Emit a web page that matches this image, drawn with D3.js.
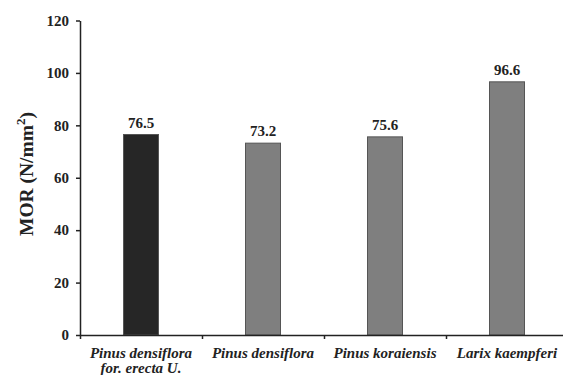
<!DOCTYPE html>
<html><head><meta charset="utf-8">
<script src="https://cdn.jsdelivr.net/npm/d3@7"></script>
<style>body{margin:0;background:#fff}svg{display:block}</style>
</head><body>
<script>
const categories = [["Pinus densiflora","for. erecta U."],["Pinus densiflora"],["Pinus koraiensis"],["Larix kaempferi"]];
const values = [76.5, 73.2, 75.6, 96.6];
const colors = ["#262626","#7f7f7f","#7f7f7f","#7f7f7f"];
const yTicks = [0,20,40,60,80,100,120];

const W=563,H=375;
const svg=d3.select("body").append("svg").attr("width",W).attr("height",H);
const x0=80, x1=568, yTop=20.5, yBot=335;
const x=d3.scaleBand().domain(d3.range(categories.length)).range([x0,x1]).paddingInner(0).paddingOuter(0);
const y=d3.scaleLinear().domain([0,120]).range([yBot,yTop]);
const font="Liberation Serif";
const bw=35;

svg.selectAll("rect.bar").data(values).enter().append("rect")
  .attr("x",(d,i)=>x(i)+x.bandwidth()/2-bw/2).attr("width",bw)
  .attr("y",d=>y(d)).attr("height",d=>y(0)-y(d))
  .attr("fill",(d,i)=>colors[i]).attr("stroke","#555").attr("stroke-width",1);

svg.selectAll("text.val").data(values).enter().append("text")
  .attr("x",(d,i)=>x(i)+x.bandwidth()/2).attr("y",d=>y(d)-7)
  .attr("text-anchor","middle").attr("font-family",font).attr("font-weight","bold")
  .attr("font-size",15).attr("fill","#222").text(d=>d.toFixed(1));

// y axis
const ya=svg.append("g").attr("transform",`translate(${x0},0)`)
  .call(d3.axisLeft(y).tickValues(yTicks).tickSize(4).tickSizeOuter(0).tickPadding(7));
ya.select(".domain").attr("stroke","#222").attr("stroke-width",1.5);
ya.selectAll(".tick line").attr("stroke","#222").attr("stroke-width",1.5);
ya.selectAll("text").attr("font-family",font).attr("font-weight","bold").attr("font-size",15).attr("fill","#222");

// x axis
const xa=svg.append("g").attr("transform",`translate(0,${yBot})`)
  .call(d3.axisBottom(d3.scaleLinear().domain([0,4]).range([x0,x1])).tickValues([0,1,2,3,4]).tickSize(4).tickSizeOuter(0).tickFormat(""));
xa.select(".domain").attr("stroke","#222").attr("stroke-width",1.5);
xa.selectAll(".tick line").attr("stroke","#222").attr("stroke-width",1.5);

const lab=svg.selectAll("text.cat").data(categories).enter().append("text")
  .attr("text-anchor","middle").attr("font-family",font).attr("font-weight","bold")
  .attr("font-style","italic").attr("font-size",15).attr("fill","#222");
lab.each(function(d,i){
  const t=d3.select(this);
  d.forEach((s,j)=>t.append("tspan").attr("x",x(i)+x.bandwidth()/2).attr("y",358+j*15).text(s));
});

svg.append("text").attr("transform","translate(33,174) rotate(-90)")
  .attr("text-anchor","middle").attr("font-family",font).attr("font-weight","bold")
  .attr("font-size",19.5).attr("fill","#222")
  .html('MOR (N/mm<tspan dy="-8" font-size="13">2</tspan><tspan dy="8">)</tspan>');
</script>
</body></html>
